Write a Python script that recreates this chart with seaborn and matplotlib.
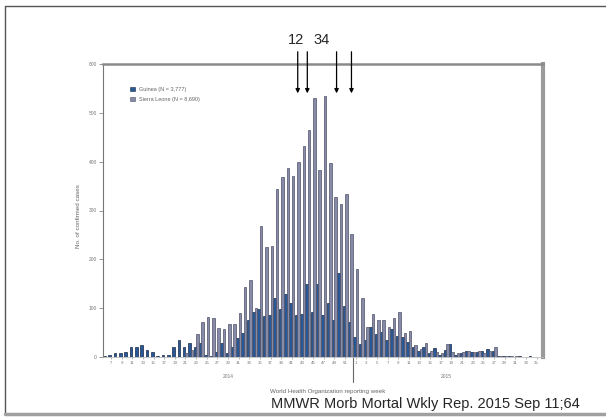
import matplotlib
matplotlib.use("Agg")
import matplotlib.pyplot as plt
import matplotlib.transforms as mtransforms
from matplotlib.lines import Line2D
from matplotlib.patches import Patch
import pandas as pd
import seaborn as sns

sns.set_style("white")
plt.rcParams["font.family"] = ["Liberation Sans", "DejaVu Sans"]

# DATA (WHO reporting weeks)
weeks_2014 = list(range(6, 53))
weeks_2015 = list(range(1, 36))

guinea_2014 = [2, 4, 9, 9, 10, 20, 20, 25, 14, 10,
               2, 5, 4, 20, 34, 20, 28, 20, 29, 5,
               3, 10, 29, 8, 20, 38, 50, 75, 92, 99,
               84, 86, 120, 99, 130, 110, 86, 88, 150, 92,
               149, 86, 110, 76, 171, 105, 71]
sierra_2014 = [0, 0, 0, 0, 0, 0, 0, 0, 0, 0,
               0, 0, 0, 0, 0, 8, 15, 48, 72, 82,
               80, 60, 58, 67, 67, 90, 143, 158, 100, 269,
               225, 228, 344, 368, 387, 371, 399, 433, 465, 531,
               383, 535, 397, 327, 314, 334, 251]
guinea_2015 = [41, 27, 34, 62, 48, 51, 34, 58, 43, 41,
               30, 20, 12, 20, 8, 19, 5, 15, 27, 5,
               8, 12, 10, 11, 12, 17, 12, 2, 2, 2,
               1, 2, 1, 2, 1]
sierra_2015 = [180, 120, 62, 89, 75, 75, 61, 80, 92, 50,
               53, 24, 17, 29, 12, 10, 8, 27, 10, 8,
               10, 12, 10, 12, 8, 12, 20, 3, 3, 2,
               2, 1, 1, 1, 1]

countries = ["Guinea (N = 3,777)", "Sierra Leone (N = 8,690)"]
colors = ["#285896", "#878ba8"]
edges = ["#1a2846", "#4e5268"]
y_ticks = [0, 100, 200, 300, 400, 500, 600]

arrow_weeks = [42.1, 43.9, 49.4, 52.2]   # 2014 weeks
arrow_texts = [("12", 41.7), ("34", 46.6)]

# TABLE
keys = [f"2014-{w:02d}" for w in weeks_2014] + [f"2015-{w:02d}" for w in weeks_2015]
week_nums = weeks_2014 + weeks_2015
n = len(keys)
df = pd.DataFrame({
    "week": keys * 2,
    "country": [countries[0]] * n + [countries[1]] * n,
    "cases": guinea_2014 + guinea_2015 + sierra_2014 + sierra_2015,
})

# FIGURE
fig = plt.figure(figsize=(6.06, 4.17), dpi=100)
ax = fig.add_axes([103 / 606, 1 - 357 / 417, 440 / 606, 293 / 417])

sns.barplot(data=df, x="week", y="cases", hue="country", order=keys,
            hue_order=countries, palette=colors, saturation=1, width=0.94,
            legend=False, ax=ax)
for cont, ec in zip(ax.containers, edges):
    for bar in cont:
        bar.set_edgecolor(ec)
        bar.set_linewidth(0.5)

ax.set_xlim(-0.5, n + 0.2)
ax.set_ylim(0, 600)
ax.set_yticks(y_ticks)
ax.set_yticklabels([str(v) for v in y_ticks], fontsize=3.5, color="#777")

odd = [i for i, w in enumerate(week_nums) if w % 2 == 1]
ax.set_xticks(odd)
ax.set_xticklabels([str(week_nums[i]) for i in odd], fontsize=3.2, color="#777")
ax.tick_params(axis="y", length=3, width=0.6, color="#888", pad=1.5, left=True)
ax.tick_params(axis="x", length=1.2, width=0.5, color="#999", pad=1.5, bottom=True)

ax.spines["top"].set_color("#8a8a8a")
ax.spines["top"].set_linewidth(1.8)
ax.spines["right"].set_color("#9a9a9a")
ax.spines["right"].set_linewidth(3)
ax.spines["left"].set_color("#777")
ax.spines["left"].set_linewidth(0.8)
ax.spines["bottom"].set_color("#bbb")
ax.spines["bottom"].set_linewidth(0.6)

ax.set_xlabel("")
ax.set_ylabel("No. of confirmed cases", fontsize=4.5, color="#666")
ax.yaxis.set_label_coords(-0.05, 0.48)

trans = mtransforms.blended_transform_factory(ax.transData, ax.transAxes)
split = len(weeks_2014) - 0.5
ax.plot([split, split], [-0.085, 0.04], transform=trans, clip_on=False,
        color="#666", lw=0.8)
ax.text((len(weeks_2014) - 1) / 2, -0.068, "2014", transform=trans,
        ha="center", va="center", fontsize=3.5, color="#777")
ax.text(len(weeks_2014) + (len(weeks_2015) - 1) / 2, -0.068, "2015",
        transform=trans, ha="center", va="center", fontsize=3.5, color="#777")
ax.text(0.51, -0.119, "World Health Organization reporting week",
        transform=ax.transAxes, ha="center", va="center", fontsize=4.5, color="#666")

handles = [Patch(facecolor=c, edgecolor=e, lw=0.4) for c, e in zip(colors, edges)]
ax.legend(handles, countries, loc="upper left", bbox_to_anchor=(0.05, 0.94),
          frameon=False, fontsize=4, handlelength=0.9, handleheight=0.9,
          labelcolor="#666", labelspacing=0.9)

# arrows and their numbers
for w in arrow_weeks:
    i = w - weeks_2014[0]
    ax.annotate("", xy=(i, 540), xytext=(i, 625), annotation_clip=False,
                arrowprops=dict(arrowstyle="-|>", color="black", lw=0.9,
                                mutation_scale=6, shrinkA=0, shrinkB=0))
for txt, w in arrow_texts:
    ax.text(w - weeks_2014[0], 649, txt, ha="center", va="center",
            fontsize=10.5, clip_on=False)

# slide frame
fig.add_artist(Line2D([5 / 606, 5 / 606], [1 - 6 / 417, 1 - 414 / 417],
                      transform=fig.transFigure, color="#555", lw=1))
fig.add_artist(Line2D([5 / 606, 1], [1 - 6 / 417, 1 - 6 / 417],
                      transform=fig.transFigure, color="#555", lw=1))
fig.add_artist(Line2D([5 / 606, 1], [1 - 414 / 417, 1 - 414 / 417],
                      transform=fig.transFigure, color="#a0a0a0", lw=2.5))

fig.text(580 / 606, 1 - 404 / 417, "MMWR Morb Mortal Wkly Rep. 2015 Sep 11;64",
         ha="right", va="center", fontsize=10.5)

fig.savefig("out.png", dpi=100)
